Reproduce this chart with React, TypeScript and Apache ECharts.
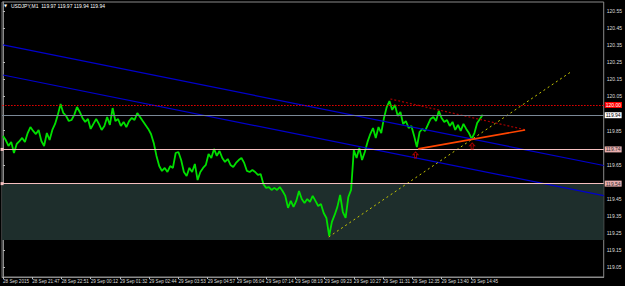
import React, { useEffect, useRef } from 'react';
import * as echarts from 'echarts';

// ---- data ----
const symbolTitle = 'USDJPY,M1  119.97 119.97 119.94 119.94';
const timeLabels = [
  '28 Sep 2015', '28 Sep 21:47', '28 Sep 22:51', '29 Sep 00:12', '29 Sep 01:32',
  '29 Sep 02:44', '29 Sep 03:53', '29 Sep 04:57', '29 Sep 06:04', '29 Sep 07:14',
  '29 Sep 08:19', '29 Sep 09:23', '29 Sep 10:27', '29 Sep 11:31', '29 Sep 12:35',
  '29 Sep 13:40', '29 Sep 14:45',
];
const labelBars = [0, 64, 128, 192, 256, 320, 384, 448, 512, 576, 640, 704, 768, 832, 896, 960, 1024];
const barStep = 6; // bars between sampled closes
const closes = [
  119.819, 119.795, 119.760, 119.784, 119.719, 119.772, 119.789, 119.807, 119.784, 119.836,
  119.871, 119.848, 119.830, 119.854, 119.789, 119.760, 119.836, 119.795, 119.854, 119.889,
  119.942, 120.006, 119.953, 119.936, 119.906, 119.912, 119.942, 119.988, 119.959, 119.924,
  119.901, 119.918, 119.860, 119.889, 119.918, 119.889, 119.854, 119.877, 119.930, 119.883,
  119.982, 119.906, 119.918, 119.877, 119.901, 119.871, 119.906, 119.924, 119.912, 119.953,
  119.930, 119.906, 119.883, 119.860, 119.830, 119.778, 119.702, 119.643, 119.614, 119.632,
  119.608, 119.643, 119.632, 119.719, 119.725, 119.678, 119.608, 119.585, 119.632, 119.608,
  119.655, 119.561, 119.608, 119.632, 119.649, 119.713, 119.690, 119.743, 119.702, 119.731,
  119.690, 119.667, 119.684, 119.649, 119.637, 119.661, 119.678, 119.690, 119.661, 119.614,
  119.608, 119.620, 119.608, 119.591, 119.596, 119.538, 119.515, 119.520, 119.503, 119.515,
  119.503, 119.520, 119.497, 119.468, 119.398, 119.439, 119.404, 119.439, 119.497, 119.450,
  119.427, 119.450, 119.433, 119.468, 119.439, 119.409, 119.421, 119.368, 119.339, 119.234,
  119.316, 119.357, 119.404, 119.474, 119.374, 119.339, 119.462, 119.503, 119.737, 119.690,
  119.749, 119.678, 119.725, 119.784, 119.830, 119.865, 119.807, 119.871, 119.836, 119.924,
  119.988, 120.023, 119.971, 120.000, 119.936, 119.959, 119.889, 119.906, 119.865, 119.877,
  119.819, 119.754, 119.842, 119.860, 119.848, 119.883, 119.918, 119.930, 119.906, 119.965,
  119.924, 119.901, 119.912, 119.877, 119.901, 119.854, 119.883, 119.848, 119.889, 119.860,
  119.836, 119.801, 119.836, 119.895, 119.918, 119.942,
];
const priceTicks = [119.05, 119.15, 119.25, 119.35, 119.45, 119.65, 119.85, 120.05, 120.15, 120.25, 120.35, 120.45, 120.55];
const resistanceLevel = 120.0;
const bidLevel = 119.94;
const supportLevels = [119.74, 119.54];
const zoneRange = [119.54, 119.21];
const channelUpper = [[0, 120.351], [1315, 119.646]];
const channelLower = [[0, 120.175], [1315, 119.47]];
const yellowTrend = [[713, 119.228], [1243, 120.193]];
const redTrend = [[848, 120.035], [1145, 119.854]];
const orangeTrend = [[909, 119.743], [1143, 119.854]];
const arrowSignals = [[903, 119.708], [1027, 119.76]];

const X_MIN = -2;
const X_MAX = 1315;
const Y_MIN = 118.994;
const Y_MAX = 120.602;

const FONT = 'Liberation Sans';

export default function App() {
  const ref = useRef<HTMLDivElement>(null);
  useEffect(() => {
    if (!ref.current) return;
    const chart = echarts.init(ref.current, null, { renderer: 'svg' });
    const priceData = closes.map((c, i) => [i * barStep, c]);
    const levelLabel = (bg: string, fg: string) => ({
      show: true,
      position: 'end',
      distance: 1,
      fontSize: 5,
      fontFamily: FONT,
      color: fg,
      backgroundColor: bg,
      padding: [1, 1, 0, 1],
    });
    const option: any = {
      animation: false,
      backgroundColor: '#000000',
      grid: {
        left: 2, right: 19, top: 2, bottom: 9,
        show: true, borderColor: '#8a8a8a', borderWidth: 1, backgroundColor: '#000000',
      },
      xAxis: {
        type: 'value', min: X_MIN, max: X_MAX,
        splitLine: { show: false },
        axisLine: { show: true, lineStyle: { color: '#8a8a8a' } },
        axisTick: { show: true, customValues: labelBars, length: 2, lineStyle: { color: '#bbbbbb' } },
        axisLabel: {
          customValues: labelBars,
          formatter: (v: number) => timeLabels[labelBars.indexOf(Math.round(v))] ?? '',
          color: '#dddddd', fontSize: 4.6, fontFamily: FONT, align: 'left', margin: 2,
          showMinLabel: true, hideOverlap: false,
        },
      },
      yAxis: {
        type: 'value', position: 'right', min: Y_MIN, max: Y_MAX,
        splitLine: { show: false },
        axisLine: { show: true, lineStyle: { color: '#8a8a8a' } },
        axisTick: { show: true, customValues: priceTicks, length: 2, lineStyle: { color: '#bbbbbb' } },
        axisLabel: {
          customValues: priceTicks,
          formatter: (v: number) => v.toFixed(2),
          color: '#dddddd', fontSize: 5, fontFamily: FONT, margin: 3, hideOverlap: false,
        },
      },
      graphic: [
        { type: 'text', left: 4, top: 3, style: { text: '▼', fontSize: 4, fill: '#ffffff', fontFamily: 'DejaVu Sans' } },
        { type: 'text', left: 11, top: 3, style: { text: symbolTitle, fontSize: 5, fill: '#ffffff', fontFamily: FONT } },
      ],
      series: [
        {
          name: 'zone', type: 'line', data: [], z: 1, silent: true,
          markArea: {
            silent: true,
            itemStyle: { color: '#1e2e2c' },
            data: [[{ xAxis: X_MIN, yAxis: zoneRange[0] }, { xAxis: X_MAX, yAxis: zoneRange[1] }]],
          },
        },
        {
          name: 'levels', type: 'line', data: [], z: 2, silent: true,
          markLine: {
            silent: true, symbol: ['none', 'none'], animation: false,
            data: [
              {
                yAxis: resistanceLevel,
                lineStyle: { color: '#ee0000', type: [1.5, 1.5], width: 1.2 },
                label: { ...levelLabel('#ff0000', '#ffffff'), formatter: resistanceLevel.toFixed(2) },
              },
              {
                yAxis: bidLevel,
                lineStyle: { color: '#7a8896', type: 'solid', width: 1 },
                label: { ...levelLabel('#ffffff', '#000000'), formatter: bidLevel.toFixed(2) },
              },
              ...supportLevels.map((lv) => ({
                yAxis: lv,
                symbol: ['rect', 'none'], symbolSize: 3,
                itemStyle: { color: '#f2b8b8' },
                lineStyle: { color: '#f6c0c0', type: 'solid', width: 1.2 },
                label: { ...levelLabel('#e8aeae', '#333333'), formatter: lv.toFixed(2) },
              })),
            ],
          },
        },
        {
          name: 'USDJPY', type: 'line', data: priceData, z: 3, symbol: 'none', silent: true,
          lineStyle: { color: '#00e000', width: 1.8 },
        },
        {
          name: 'channelUpper', type: 'line', data: channelUpper, z: 4, symbol: 'none', silent: true,
          lineStyle: { color: '#0000cd', width: 1.2 },
        },
        {
          name: 'channelLower', type: 'line', data: channelLower, z: 4, symbol: 'none', silent: true,
          lineStyle: { color: '#0000cd', width: 1.2 },
        },
        {
          name: 'yellowTrend', type: 'line', data: yellowTrend, z: 4, symbol: 'none', silent: true,
          lineStyle: { color: '#c8c800', width: 1, type: [2, 3] },
        },
        {
          name: 'redTrend', type: 'line', data: redTrend, z: 4, symbol: 'none', silent: true,
          lineStyle: { color: '#a80000', width: 1.2, type: [2, 2] },
        },
        {
          name: 'orangeTrend', type: 'line', data: orangeTrend, z: 5, symbol: 'none', silent: true,
          lineStyle: { color: '#ff4500', width: 1.6 },
        },
        {
          name: 'signals', type: 'scatter', data: arrowSignals, z: 6, silent: true,
          symbol: 'path://M5,0 L10,5 L7,5 L7,11 L3,11 L3,5 L0,5 Z',
          symbolSize: [5, 6],
          itemStyle: { color: 'rgba(0,0,0,0)', borderColor: '#c80000', borderWidth: 1 },
        },
      ],
    };
    chart.setOption(option);
    return () => chart.dispose();
  }, []);
  return (
    <div
      ref={ref}
      style={{ position: 'fixed', left: 0, top: 0, width: 625, height: 286, background: '#000' }}
    />
  );
}
